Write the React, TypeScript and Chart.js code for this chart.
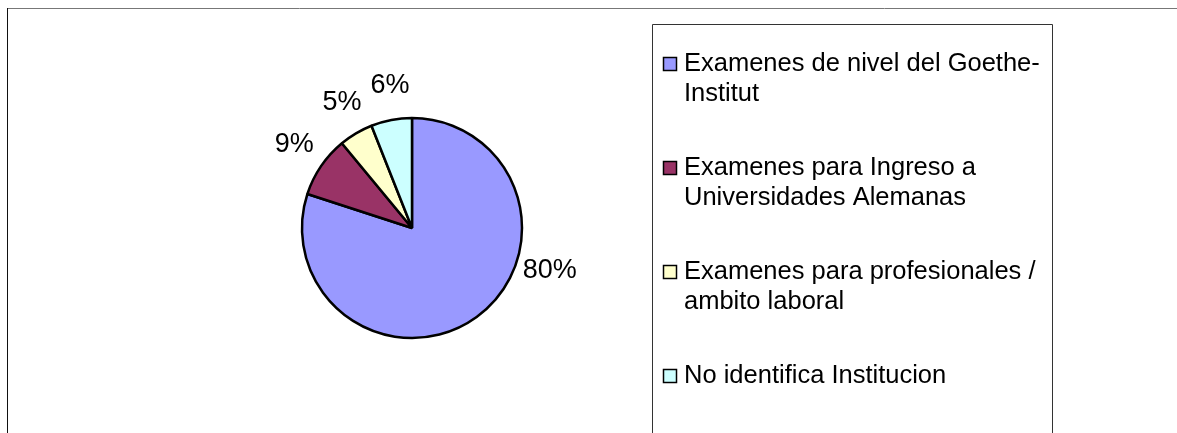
import { useEffect, useRef } from "react";
import { Chart, registerables } from "chart.js";

Chart.register(...registerables);

// ---- data ----
const categories: string[][] = [
  ["Examenes de nivel del Goethe-", "Institut"],
  ["Examenes para Ingreso a", "Universidades Alemanas"],
  ["Examenes para profesionales /", "ambito laboral"],
  ["No identifica Institucion"],
];
const values = [80, 9, 5, 6];
const sliceColors = ["#9999FF", "#993366", "#FFFFCC", "#CCFFFF"];

const FONT = "'Liberation Sans', Arial, sans-serif";

const framePlugin = {
  id: "frame",
  beforeDraw(chart: any) {
    const ctx = chart.ctx;
    ctx.save();
    ctx.fillStyle = "#ffffff";
    ctx.fillRect(0, 0, chart.width, chart.height);
    ctx.lineWidth = 1;
    ctx.strokeStyle = "#777777";
    ctx.beginPath();
    ctx.moveTo(7, 8.5);
    ctx.lineTo(chart.width, 8.5);
    ctx.stroke();
    ctx.strokeStyle = "#111111";
    ctx.beginPath();
    ctx.moveTo(7.5, 8);
    ctx.lineTo(7.5, chart.height);
    ctx.stroke();
    ctx.restore();
  },
};

const sliceLabelPlugin = {
  id: "sliceLabels",
  afterDatasetsDraw(chart: any, _args: any, opts: any) {
    const ctx = chart.ctx;
    const meta = chart.getDatasetMeta(0);
    const data = chart.data.datasets[0].data as number[];
    const total = data.reduce((a, b) => a + b, 0);
    ctx.save();
    ctx.font = `${opts.size}px ${FONT}`;
    ctx.fillStyle = "#000";
    ctx.textAlign = "center";
    ctx.textBaseline = "middle";
    meta.data.forEach((arc: any, i: number) => {
      const { x, y, startAngle, endAngle, outerRadius } = arc.getProps(
        ["x", "y", "startAngle", "endAngle", "outerRadius"],
        true
      );
      const shift = ((opts.angleShift[i] || 0) * Math.PI) / 180;
      const mid = (startAngle + endAngle) / 2 + shift;
      const d = outerRadius * opts.distance;
      const txt = Math.round((data[i] / total) * 100) + "%";
      ctx.fillText(txt, x + Math.cos(mid) * d, y + Math.sin(mid) * d);
    });
    ctx.restore();
  },
};

const legendBoxPlugin = {
  id: "legendBox",
  afterDraw(chart: any, _args: any, opts: any) {
    const ctx = chart.ctx;
    const labels = chart.data.labels as string[][];
    const colors = chart.data.datasets[0].backgroundColor as string[];
    ctx.save();
    ctx.lineWidth = 1;
    ctx.strokeStyle = "#333333";
    ctx.beginPath();
    ctx.moveTo(opts.left + 0.5, chart.height);
    ctx.lineTo(opts.left + 0.5, opts.top + 0.5);
    ctx.lineTo(opts.right + 0.5, opts.top + 0.5);
    ctx.lineTo(opts.right + 0.5, chart.height);
    ctx.stroke();
    ctx.font = `${opts.size}px ${FONT}`;
    ctx.textAlign = "left";
    ctx.textBaseline = "alphabetic";
    labels.forEach((lines, i) => {
      const base = opts.firstBaseline + i * opts.pitch;
      const sx = opts.left + 11.5;
      const sy = base - 13.5;
      ctx.fillStyle = colors[i];
      ctx.fillRect(sx, sy, 13, 13);
      ctx.lineWidth = 1.5;
      ctx.strokeStyle = "#000";
      ctx.strokeRect(sx, sy, 13, 13);
      ctx.fillStyle = "#000";
      lines.forEach((ln, j) => {
        ctx.fillText(ln, opts.left + 32, base + j * opts.lineHeight);
      });
    });
    ctx.restore();
  },
};

export default function App() {
  const ref = useRef<HTMLCanvasElement>(null);
  useEffect(() => {
    if (!ref.current) return;
    const chart = new Chart(ref.current, {
      type: "pie",
      data: {
        labels: categories,
        datasets: [
          {
            data: values,
            backgroundColor: sliceColors,
            borderColor: "#000000",
            borderWidth: 2.5,
            radius: 110,
          } as any,
        ],
      },
      options: {
        responsive: false,
        animation: false,
        devicePixelRatio: 1,
        layout: { padding: { left: 262, right: 615, top: 78, bottom: 55 } },
        plugins: {
          legend: { display: false },
          tooltip: { enabled: false },
          sliceLabels: { size: 27, distance: 1.31, angleShift: [-37, 1, 1.5, 2] },
          legendBox: {
            left: 652,
            right: 1052,
            top: 24,
            size: 25.5,
            firstBaseline: 71,
            pitch: 104,
            lineHeight: 30,
          },
        } as any,
      },
      plugins: [framePlugin, sliceLabelPlugin, legendBoxPlugin],
    });
    return () => chart.destroy();
  }, []);
  return (
    <div style={{ position: "absolute", left: 0, top: 0, width: 1177, height: 433 }}>
      <canvas ref={ref} width={1177} height={433} style={{ display: "block" }} />
    </div>
  );
}
